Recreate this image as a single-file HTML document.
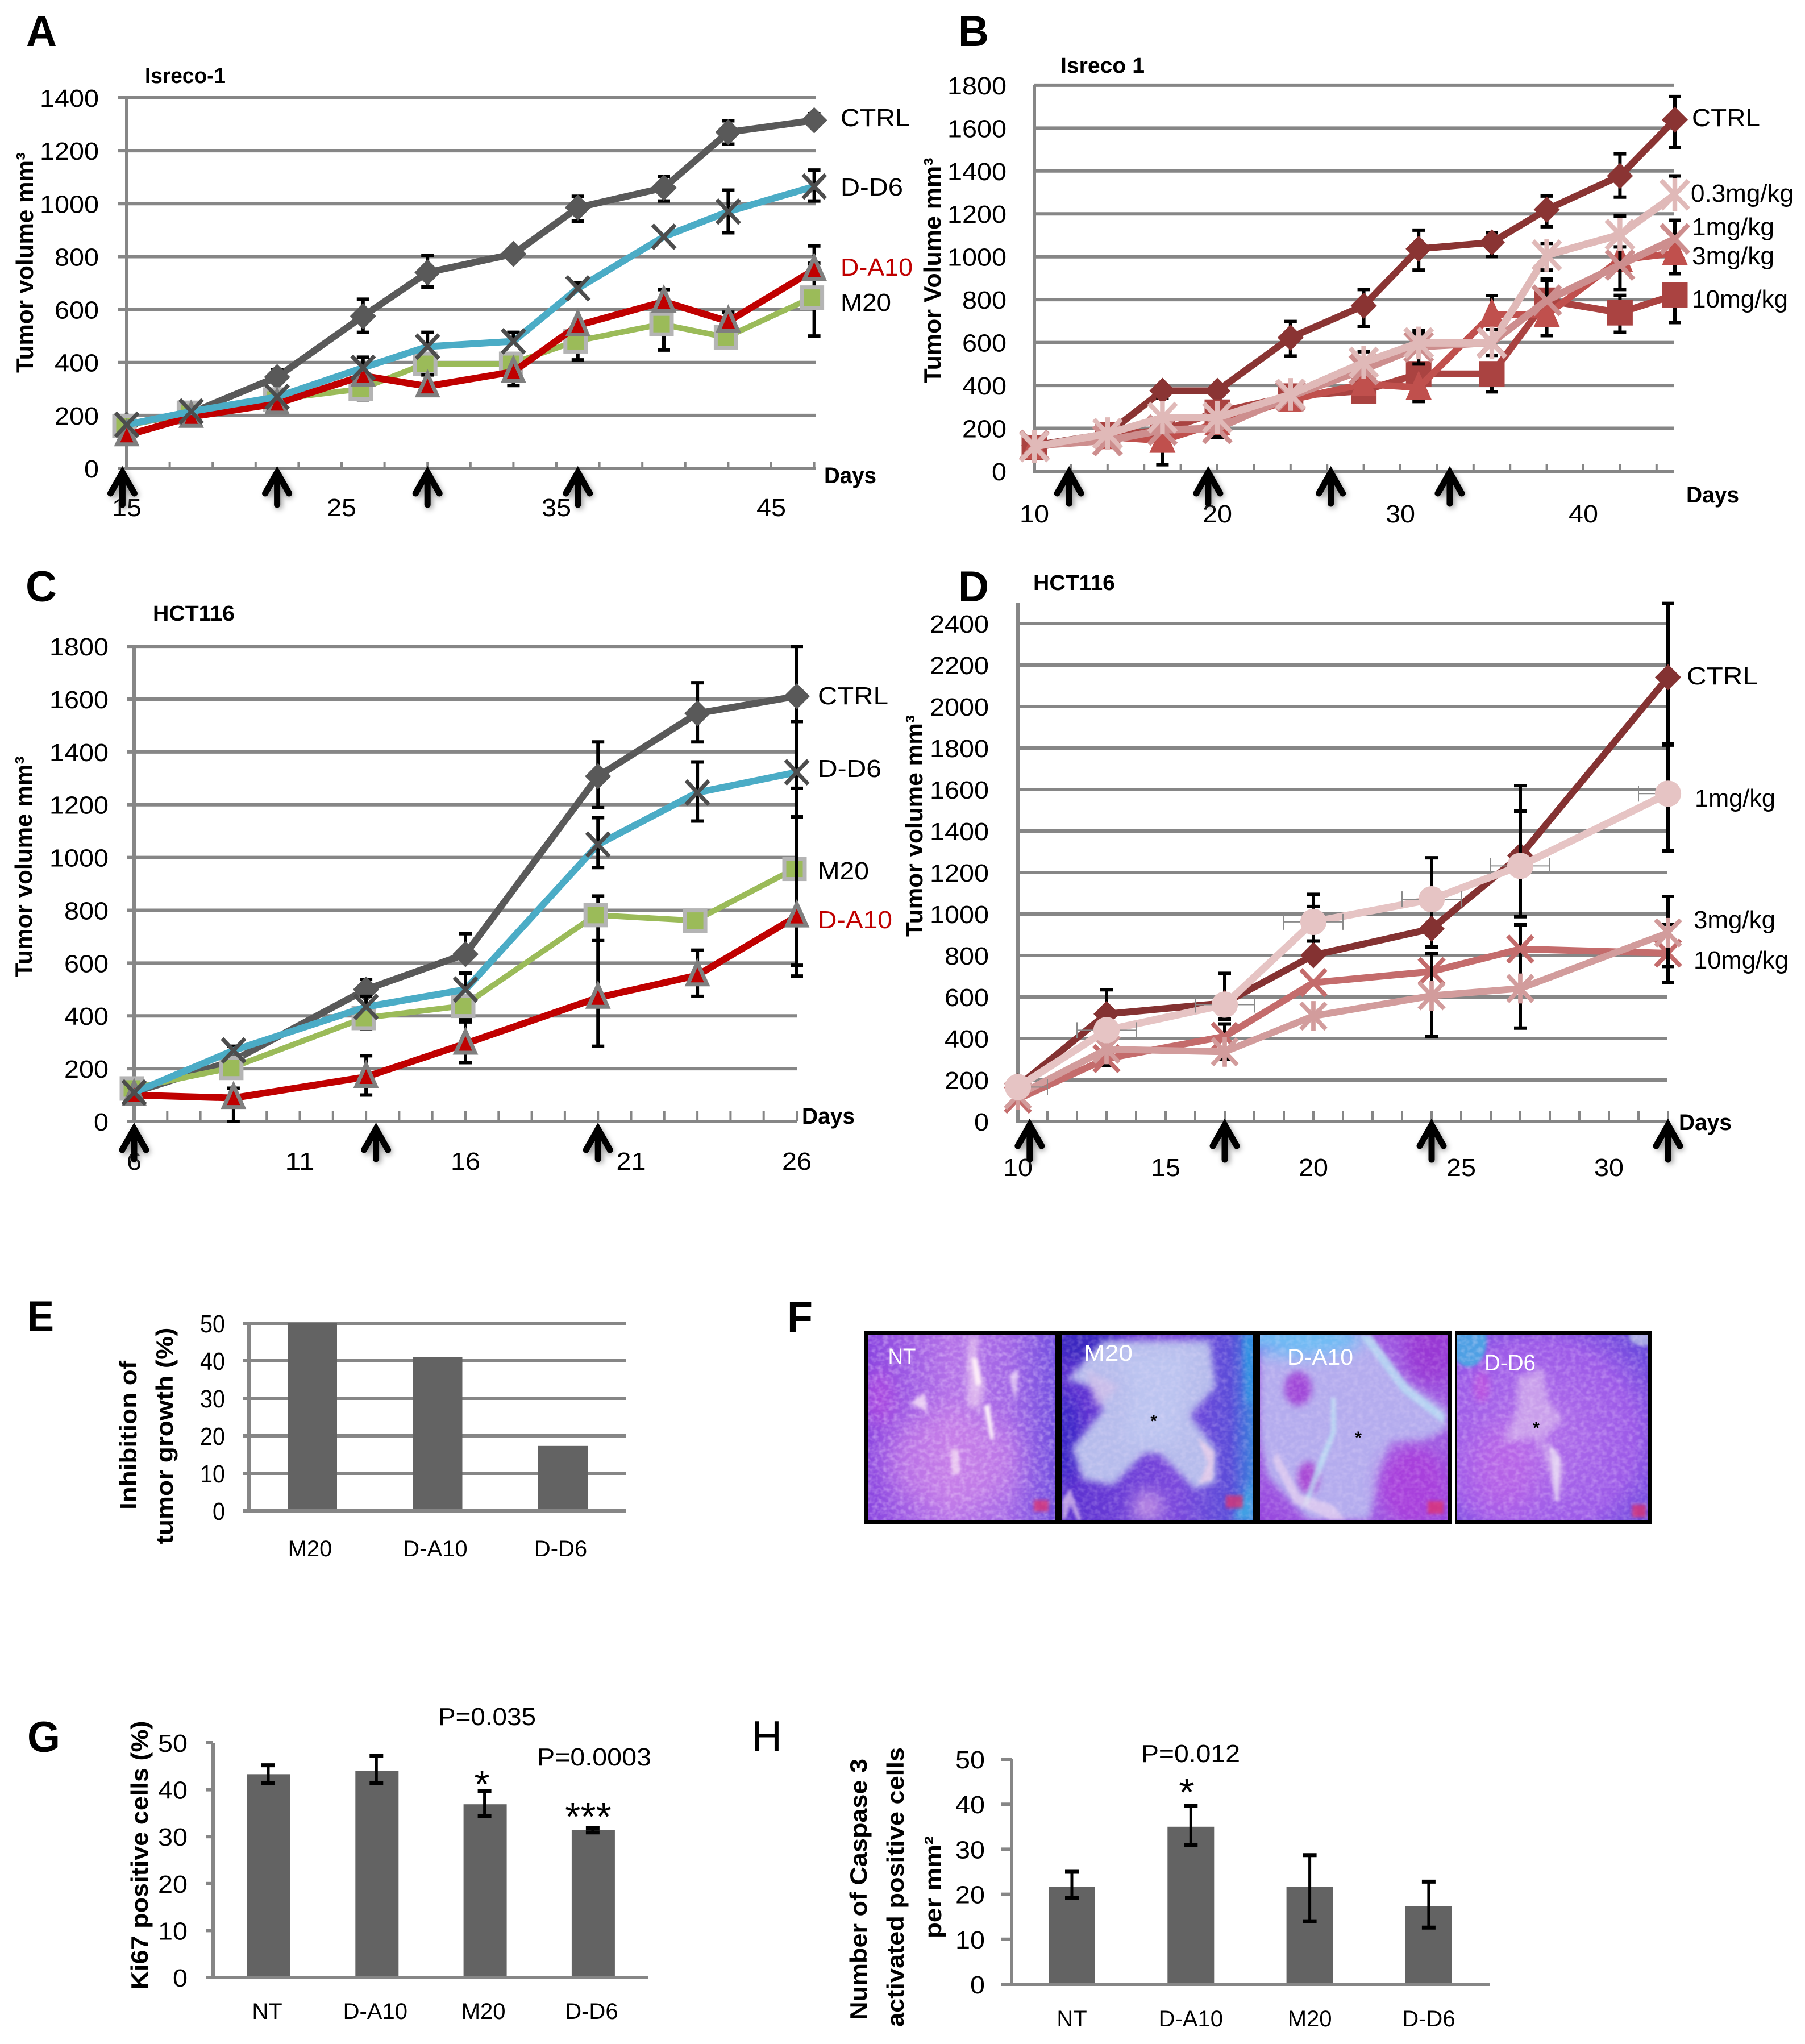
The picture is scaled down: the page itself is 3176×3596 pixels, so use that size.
<!DOCTYPE html>
<html lang="en">
<head>
<meta charset="utf-8">
<title>Tumor growth figure</title>
<style>
html,body{margin:0;padding:0;background:#fff;}
svg{display:block;}
text{font-family:"Liberation Sans",sans-serif;}
.letter{font-weight:bold;font-size:76px;fill:#000;}
.title{font-weight:bold;font-size:38px;fill:#000;}
.ylab{font-weight:bold;font-size:42px;fill:#000;}
.lab{font-size:44px;fill:#000;}
.days{font-weight:bold;font-size:40px;fill:#000;}
.micro{font-size:40px;fill:#fff;}
.star{font-size:70px;fill:#000;}
</style>
</head>
<body>
<svg id="figure" xmlns="http://www.w3.org/2000/svg" width="3176" height="3596" viewBox="0 0 3176 3596">
<defs>
<filter id="b3" x="-30%" y="-30%" width="160%" height="160%"><feGaussianBlur stdDeviation="3"/></filter>
<filter id="b6" x="-30%" y="-30%" width="160%" height="160%"><feGaussianBlur stdDeviation="6"/></filter>
<filter id="b14" x="-40%" y="-40%" width="180%" height="180%"><feGaussianBlur stdDeviation="14"/></filter>
<filter id="b24" x="-60%" y="-60%" width="220%" height="220%"><feGaussianBlur stdDeviation="24"/></filter>
<filter id="grain" x="0" y="0" width="100%" height="100%">
<feTurbulence type="fractalNoise" baseFrequency="0.11 0.13" numOctaves="2" seed="4"/>
<feColorMatrix type="matrix" values="0 0 0 0 0.95  0 0 0 0 0.82  0 0 0 0 1  1.8 0 0 0 -0.7"/>
</filter>
<filter id="arrowShadow" x="-60%" y="-30%" width="220%" height="170%"><feGaussianBlur stdDeviation="5"/></filter>
<linearGradient id="ntBase" x1="0" y1="0" x2="1" y2="0"><stop offset="0" stop-color="#8a46e0"/><stop offset="0.45" stop-color="#b472e8"/><stop offset="0.75" stop-color="#a266e6"/><stop offset="1" stop-color="#7450e0"/></linearGradient>
<linearGradient id="m20Base" x1="0" y1="0" x2="1" y2="0"><stop offset="0" stop-color="#5a30d0"/><stop offset="0.6" stop-color="#7a48dc"/><stop offset="0.88" stop-color="#5a4cd8"/><stop offset="1" stop-color="#3a80dc"/></linearGradient>
<radialGradient id="a10Base" cx="50%" cy="50%" r="75%"><stop offset="0" stop-color="#b088ea"/><stop offset="1" stop-color="#9440dc"/></radialGradient>
<radialGradient id="d6Base" cx="42%" cy="55%" r="72%"><stop offset="0" stop-color="#b270ea"/><stop offset="0.7" stop-color="#9c5ae8"/><stop offset="1" stop-color="#6a48dc"/></radialGradient>
</defs>

<g id="panel-a">
<text class="letter" x="46" y="81" textLength="54" lengthAdjust="spacingAndGlyphs">A</text>
<text class="title" x="255" y="146" textLength="142" lengthAdjust="spacingAndGlyphs">Isreco-1</text>
<text class="ylab" transform="translate(58 462) rotate(-90)" text-anchor="middle" textLength="388" lengthAdjust="spacingAndGlyphs">Tumor volume mm³</text>
<text class="days" x="1450" y="850" textLength="92" lengthAdjust="spacingAndGlyphs">Days</text>
<text class="lab" x="1479" y="222" textLength="122" lengthAdjust="spacingAndGlyphs">CTRL</text>
<text class="lab" x="1479" y="344" textLength="110" lengthAdjust="spacingAndGlyphs">D-D6</text>
<text class="lab" x="1479" y="485" textLength="127" lengthAdjust="spacingAndGlyphs" style="fill:#c00000">D-A10</text>
<text class="lab" x="1479" y="547" textLength="89" lengthAdjust="spacingAndGlyphs">M20</text>
</g>

<g id="panel-b">
<text class="letter" x="1686" y="81" textLength="54" lengthAdjust="spacingAndGlyphs">B</text>
<text class="title" x="1866" y="128" textLength="148" lengthAdjust="spacingAndGlyphs">Isreco 1</text>
<text class="ylab" transform="translate(1655 476) rotate(-90)" text-anchor="middle" textLength="397" lengthAdjust="spacingAndGlyphs">Tumor Volume mm³</text>
<text class="days" x="2967" y="884" textLength="93" lengthAdjust="spacingAndGlyphs">Days</text>
<text class="lab" x="2977" y="222" textLength="120" lengthAdjust="spacingAndGlyphs">CTRL</text>
<text class="lab" x="2975" y="355" textLength="181" lengthAdjust="spacingAndGlyphs">0.3mg/kg</text>
<text class="lab" x="2977" y="414" textLength="145" lengthAdjust="spacingAndGlyphs">1mg/kg</text>
<text class="lab" x="2977" y="465" textLength="145" lengthAdjust="spacingAndGlyphs">3mg/kg</text>
<text class="lab" x="2977" y="541" textLength="169" lengthAdjust="spacingAndGlyphs">10mg/kg</text>
</g>

<g id="panel-c">
<text class="letter" x="45" y="1058" textLength="55" lengthAdjust="spacingAndGlyphs">C</text>
<text class="title" x="269" y="1092" textLength="144" lengthAdjust="spacingAndGlyphs">HCT116</text>
<text class="ylab" transform="translate(56 1525) rotate(-90)" text-anchor="middle" textLength="389" lengthAdjust="spacingAndGlyphs">Tumor volume mm³</text>
<text class="days" x="1411" y="1977" textLength="93" lengthAdjust="spacingAndGlyphs">Days</text>
<text class="lab" x="1439" y="1239" textLength="124" lengthAdjust="spacingAndGlyphs">CTRL</text>
<text class="lab" x="1439" y="1367" textLength="112" lengthAdjust="spacingAndGlyphs">D-D6</text>
<text class="lab" x="1439" y="1547" textLength="90" lengthAdjust="spacingAndGlyphs">M20</text>
<text class="lab" x="1439" y="1633" textLength="131" lengthAdjust="spacingAndGlyphs" style="fill:#c00000">D-A10</text>
</g>

<g id="panel-d">
<text class="letter" x="1686" y="1058" textLength="54" lengthAdjust="spacingAndGlyphs">D</text>
<text class="title" x="1818" y="1038" textLength="144" lengthAdjust="spacingAndGlyphs">HCT116</text>
<text class="ylab" transform="translate(1623 1453) rotate(-90)" text-anchor="middle" textLength="390" lengthAdjust="spacingAndGlyphs">Tumor volume mm³</text>
<text class="days" x="2954" y="1988" textLength="93" lengthAdjust="spacingAndGlyphs">Days</text>
<text class="lab" x="2968" y="1204" textLength="125" lengthAdjust="spacingAndGlyphs">CTRL</text>
<text class="lab" x="2982" y="1419" textLength="142" lengthAdjust="spacingAndGlyphs">1mg/kg</text>
<text class="lab" x="2980" y="1633" textLength="144" lengthAdjust="spacingAndGlyphs">3mg/kg</text>
<text class="lab" x="2980" y="1704" textLength="167" lengthAdjust="spacingAndGlyphs">10mg/kg</text>
</g>

<g id="panel-e">
<text class="letter" x="48" y="2342" textLength="47" lengthAdjust="spacingAndGlyphs">E</text>
<text class="ylab" transform="translate(240 2525) rotate(-90)" text-anchor="middle" textLength="262" lengthAdjust="spacingAndGlyphs">Inhibition of</text>
<text class="ylab" transform="translate(304 2526) rotate(-90)" text-anchor="middle" textLength="381" lengthAdjust="spacingAndGlyphs">tumor growth (%)</text>
</g>

<g id="panel-f">
<text class="letter" x="1385" y="2343" textLength="45" lengthAdjust="spacingAndGlyphs">F</text>
<rect x="1520" y="2342" width="1034" height="339" fill="#000"/>
<rect x="2560" y="2342" width="347" height="339" fill="#000"/>

<svg x="1527" y="2349" width="329" height="325" viewBox="0 0 329 325">
<rect width="329" height="325" fill="url(#ntBase)"/>
<ellipse cx="150" cy="220" rx="120" ry="90" fill="#d88ae8" opacity=".5" filter="url(#b24)"/>
<ellipse cx="20" cy="110" rx="28" ry="50" fill="#b848e0" opacity=".6" filter="url(#b14)"/>
<path d="M178 0 L194 0 L192 50 L206 90 L196 130 L176 125 L174 60 Z" fill="#e8c8f0" opacity=".8" filter="url(#b6)"/>
<path d="M182 40 L192 40 L200 85 L190 90 Z" fill="#fff0f8" filter="url(#b3)"/>
<path d="M204 124 L214 122 L222 181 L216 185 Z" fill="#fff4fa" filter="url(#b3)"/>
<path d="M145 200 L160 200 L162 245 L148 245 Z" fill="#f0d4f2" opacity=".85" filter="url(#b3)"/>
<path d="M75 120 L100 100 L105 135 Z" fill="#f4dff6" opacity=".85" filter="url(#b3)"/>
<path d="M248 70 L266 60 L260 120 Z" fill="#e8d0f4" opacity=".8" filter="url(#b3)"/>
<rect width="329" height="325" filter="url(#grain)" opacity=".45"/>
<rect x="292" y="290" width="26" height="20" fill="#e0306c" opacity=".75" filter="url(#b3)"/>
</svg>

<svg x="1869" y="2349" width="336" height="325" viewBox="0 0 336 325">
<rect width="336" height="325" fill="url(#m20Base)"/>
<ellipse cx="40" cy="15" rx="60" ry="35" fill="#3a28c0" filter="url(#b14)"/>
<ellipse cx="0" cy="180" rx="30" ry="80" fill="#3a28c8" filter="url(#b14)"/>
<path d="M320 0 L336 0 L336 120 L325 120 Z" fill="#2f96e4" filter="url(#b6)"/>
<path d="M300 325 L336 250 L336 325 Z" fill="#3fa0e4" filter="url(#b6)"/>
<path d="M72 10 L260 10 L270 91 L225 141 L270 201 L270 258 L234 271 L171 208 L144 208 L90 264 L36 254 L18 198 L72 131 L54 91 L9 78 Z" fill="#b6bcec" filter="url(#b6)"/>
<path d="M100 30 L230 30 L210 130 L200 190 L110 190 L120 100 Z" fill="#bcc4f0" filter="url(#b14)"/>
<path d="M238 180 L268 205 L264 255 L240 262 L256 225 Z" fill="#e8cce8" opacity=".8" filter="url(#b3)"/>
<path d="M40 60 L100 90 L60 130 Z" fill="#d8c0e8" opacity=".6" filter="url(#b6)"/>
<path d="M130 275 L170 275 L180 325 L120 325 Z" fill="#d8a8e8" opacity=".7" filter="url(#b14)"/>
<path d="M0 290 L14 270 L34 325 L26 325 L14 295 L6 325 L0 325 Z" fill="#e8d0ee" opacity=".7" filter="url(#b3)"/>
<rect width="336" height="325" filter="url(#grain)" opacity=".28"/>
<rect x="288" y="282" width="30" height="22" fill="#e0306c" opacity=".75" filter="url(#b3)"/>
</svg>

<svg x="2217" y="2349" width="330" height="325" viewBox="0 0 330 325">
<rect width="330" height="325" fill="url(#a10Base)"/>
<path d="M103 0 L193 0 L247 74 L330 131 L330 165 L283 188 L229 188 L192 325 L85 325 L13 248 L0 181 L0 31 Z" fill="#b4acee" filter="url(#b6)"/>
<ellipse cx="70" cy="6" rx="110" ry="32" fill="#70bcf4" filter="url(#b14)"/>
<ellipse cx="67" cy="94" rx="24" ry="30" fill="#a048d8" filter="url(#b6)"/>
<ellipse cx="85" cy="251" rx="19" ry="28" fill="#a848d4" filter="url(#b6)"/>
<ellipse cx="270" cy="265" rx="60" ry="70" fill="#a840dc" filter="url(#b14)"/>
<ellipse cx="300" cy="30" rx="45" ry="55" fill="#9838d4" filter="url(#b14)"/>
<path d="M175 0 L195 0 L262 90 L325 140 L322 155 L250 100 Z" fill="#b8e4f4" opacity=".7" filter="url(#b3)"/>
<path d="M125 110 L125 170 L95 240 L75 300 L84 300 L108 240 L134 170 L133 110 Z" fill="#bde8f4" opacity=".7" filter="url(#b3)"/>
<path d="M30 205 L70 280 L130 300 L150 325 L125 325 L60 295 L22 220 Z" fill="#f0d8f0" opacity=".6" filter="url(#b3)"/>
<rect width="330" height="325" filter="url(#grain)" opacity=".25"/>
<rect x="295" y="292" width="28" height="22" fill="#e0306c" opacity=".75" filter="url(#b3)"/>
</svg>

<svg x="2564" y="2349" width="336" height="325" viewBox="0 0 336 325">
<rect width="336" height="325" fill="url(#d6Base)"/>
<ellipse cx="20" cy="10" rx="32" ry="46" fill="#4fa0e4" filter="url(#b3)"/>
<ellipse cx="330" cy="3" rx="28" ry="16" fill="#a8a8e4" filter="url(#b3)"/>
<ellipse cx="80" cy="240" rx="60" ry="80" fill="#c860e4" opacity=".45" filter="url(#b24)"/>
<ellipse cx="43" cy="91" rx="14" ry="28" fill="#c850dc" opacity=".6" filter="url(#b6)"/>
<path d="M106 74 L151 58 L160 114 L187 148 L151 181 L187 231 L178 291 L165 248 L142 181 L79 188 L106 131 Z" fill="#cfa8ec" opacity=".85" filter="url(#b6)"/>
<path d="M162 190 L182 215 L178 295 L172 290 Z" fill="#e8dcf4" opacity=".8" filter="url(#b3)"/>
<rect width="336" height="325" filter="url(#grain)" opacity=".35"/>
<rect x="308" y="298" width="24" height="22" fill="#e0306c" opacity=".75" filter="url(#b3)"/>
</svg>

<text class="micro" x="1587" y="2400" text-anchor="middle" textLength="49" lengthAdjust="spacingAndGlyphs">NT</text>
<text class="micro" x="1950" y="2394" text-anchor="middle" textLength="86" lengthAdjust="spacingAndGlyphs">M20</text>
<text class="micro" x="2323" y="2401" text-anchor="middle" textLength="116" lengthAdjust="spacingAndGlyphs">D-A10</text>
<text class="micro" x="2657" y="2411" text-anchor="middle" textLength="90" lengthAdjust="spacingAndGlyphs">D-D6</text>
<text x="2030" y="2510" text-anchor="middle" font-size="30" font-weight="bold">*</text>
<text x="2390" y="2539" text-anchor="middle" font-size="30" font-weight="bold">*</text>
<text x="2703" y="2522" text-anchor="middle" font-size="30" font-weight="bold">*</text>
</g>

<g id="panel-g">
<text class="letter" x="48" y="3082" textLength="58" lengthAdjust="spacingAndGlyphs">G</text>
<text class="ylab" transform="translate(260 3264) rotate(-90)" text-anchor="middle" textLength="473" lengthAdjust="spacingAndGlyphs">Ki67 positive cells (%)</text>
<text class="lab" x="771" y="3035" textLength="172" lengthAdjust="spacingAndGlyphs">P=0.035</text>
<text class="lab" x="945" y="3106" textLength="201" lengthAdjust="spacingAndGlyphs">P=0.0003</text>
<text class="star" x="848" y="3163" text-anchor="middle">*</text>
<text class="star" x="1035" y="3220" text-anchor="middle">***</text>
</g>

<g id="panel-h">
<text class="letter" x="1322" y="3081" textLength="54" lengthAdjust="spacingAndGlyphs" style="font-weight:normal">H</text>
<text class="ylab" transform="translate(1525 3324) rotate(-90)" text-anchor="middle" textLength="460" lengthAdjust="spacingAndGlyphs">Number of Caspase 3</text>
<text class="ylab" transform="translate(1590 3320) rotate(-90)" text-anchor="middle" textLength="492" lengthAdjust="spacingAndGlyphs">activated positive cells</text>
<text class="ylab" transform="translate(1656 3320) rotate(-90)" text-anchor="middle" textLength="180" lengthAdjust="spacingAndGlyphs">per mm²</text>
<text class="lab" x="2008" y="3100" textLength="174" lengthAdjust="spacingAndGlyphs">P=0.012</text>
<text class="star" x="2088" y="3177" text-anchor="middle">*</text>
</g>
</svg>

<script>
// ---------- Panel A data ----------
const aDays = [15, 18, 22, 26, 29, 33, 36, 40, 43, 47];
const aCtrl = [165, 210, 345, 575, 740, 810, 985, 1060, 1270, 1315];
const aCtrlLow = [null, null, null, 514, 685, null, 934, 1010, 1225, null];
const aCtrlHigh = [null, null, 373, 639, 803, null, 1028, 1102, 1313, 1340];
const aM20 = [160, 210, 260, 300, 395, 395, 480, 545, 495, 645];
const aM20Low = [null, null, null, 259, null, null, 410, 447, null, 500];
const aM20High = [null, null, null, null, null, null, null, null, null, 840];
const aA10 = [125, 195, 245, 350, 310, 365, 540, 630, 555, 750];
const aA10Low = [null, null, null, null, null, 313, null, null, null, null];
const aA10High = [null, null, null, null, 353, null, null, 675, 590, 775];
const aD6 = [165, 215, 270, 380, 460, 480, 680, 875, 970, 1065];
const aD6Low = [null, null, null, null, null, null, null, null, 890, 1010];
const aD6High = [null, null, null, 420, 514, 514, 702, null, 1051, 1127];
const aYTicks = [0, 200, 400, 600, 800, 1000, 1200, 1400];
const aXLabels = [15, 25, 35, 45];
const aTreatments = [14.8, 22, 29, 36];

// ---------- Panel B data ----------
const bDays = [10, 14, 17, 20, 24, 28, 31, 35, 38, 42, 45];
const bCtrl = [120, 175, 375, 375, 623, 772, 1037, 1067, 1220, 1377, 1639];
const bCtrlLow = [null, null, null, null, 537, 676, 938, 1001, 1140, 1278, 1510];
const bCtrlHigh = [null, null, 340, null, 698, 847, 1124, 1112, 1283, 1480, 1747];
const b10 = [110, 170, 190, 275, 350, 375, 454, 454, 797, 739, 822];
const b10Low = [null, null, null, 159, 292, 325, 325, 370, 632, 648, 693];
const b10High = [null, null, null, null, null, null, null, null, null, 820, null];
const b3 = [115, 160, 143, 225, 333, 407, 390, 730, 730, 986, 1017];
const b3Low = [null, null, 30, null, null, null, null, null, null, null, 921];
const b3High = [null, null, null, null, null, null, null, 819, 890, null, null];
const b1 = [120, 143, 192, 200, 350, 474, 580, 600, 797, 962, 1083];
const b1Low = [null, null, null, null, null, null, null, null, null, 847, null];
const b1High = [null, null, null, null, null, null, 640, null, 897, 1046, 1170];
const b03 = [115, 175, 250, 250, 358, 507, 598, 598, 1007, 1103, 1289];
const b03Low = [null, null, null, null, null, null, 500, 540, 938, null, null];
const b03High = [null, null, null, null, null, 557, 656, 660, 1062, 1190, 1377];
const bYTicks = [0, 200, 400, 600, 800, 1000, 1200, 1400, 1600, 1800];
const bXLabels = [10, 20, 30, 40];
const bTreatments = [11.9, 19.5, 26.2, 32.7];

// ---------- Panel C data ----------
const cDays = [6, 9, 13, 16, 20, 23, 26];
const cCtrl = [110, 231, 500, 634, 1308, 1546, 1611];
const cCtrlLow = [null, null, null, null, 1189, 1438, 1515];
const cCtrlHigh = [null, 285, 538, 711, 1438, 1662, 1800];
const cM20 = [125, 203, 392, 438, 782, 761, 957];
const cM20Low = [null, null, 349, 392, 685, null, 592];
const cM20High = [null, null, null, null, 854, null, 1154];
const cA10 = [100, 89, 169, 295, 469, 554, 777];
const cA10Low = [null, 0, 100, 223, 285, 474, 551];
const cA10High = [null, 126, 249, 377, 685, 649, 1262];
const cD6 = [110, 269, 434, 500, 1049, 1246, 1323];
const cD6Low = [null, null, null, null, 962, 1138, 1154];
const cD6High = [null, null, 474, 562, 1151, 1362, 1515];
const cYTicks = [0, 200, 400, 600, 800, 1000, 1200, 1400, 1600, 1800];
const cXLabels = [6, 11, 16, 21, 26];
const cTreatments = [6, 13.3, 20];

// ---------- Panel D data ----------
const dDays = [10, 13, 17, 20, 24, 27, 32];
const dCtrl = [170, 518, 571, 801, 929, 1281, 2141];
const dCtrlLow = [null, null, 493, 870, 841, 987, 1822];
const dCtrlHigh = [null, 635, 714, 1095, 1271, 1619, 2497];
const d3 = [108, 303, 410, 669, 723, 831, 811];
const d3Low = [null, 270, null, null, null, 450, 669];
const d3High = [null, null, 470, null, null, 948, 1085];
const d10 = [127, 348, 336, 508, 606, 641, 909];
const d10Low = [null, null, 300, null, 410, null, 747];
const d10High = [null, null, null, null, 811, null, 950];
const d1 = [166, 440, 563, 962, 1071, 1232, 1580];
const d1Low = [null, null, null, null, null, null, 1304];
const d1High = [null, null, null, 1036, null, 1496, 1814];
const dYTicks = [0, 200, 400, 600, 800, 1000, 1200, 1400, 1600, 1800, 2000, 2200, 2400];
const dXLabels = [10, 15, 20, 25, 30];
const dTreatments = [10.4, 17, 24, 32];
const d1XError = [1, 1, 1, 1, 1, 1, 1];

// ---------- Panel E data ----------
const eCategories = ['M20', 'D-A10', 'D-D6'];
const eValues = [50, 41, 17.3];
const eYTicks = [0, 10, 20, 30, 40, 50];

// ---------- Panel G data ----------
const gCategories = ['NT', 'D-A10', 'M20', 'D-D6'];
const gValues = [43.3, 44, 36.9, 31.4];
const gLow = [41.4, 41.4, 34.4, 30.9];
const gHigh = [45.2, 47.2, 39.7, 31.9];
const gYTicks = [0, 10, 20, 30, 40, 50];

// ---------- Panel H data ----------
const hCategories = ['NT', 'D-A10', 'M20', 'D-D6'];
const hValues = [21.7, 35, 21.7, 17.3];
const hLow = [19.2, 30.9, 14, 12.6];
const hHigh = [25, 39.6, 28.7, 22.8];
const hYTicks = [0, 10, 20, 30, 40, 50];

const SVGNS = 'http://www.w3.org/2000/svg';
const GRID = '#868686';

function node(parent, tag, attrs) {
  const el = document.createElementNS(SVGNS, tag);
  for (const k in attrs) el.setAttribute(k, attrs[k]);
  parent.appendChild(el);
  return el;
}

function drawRule(parent, x1, y1, x2, y2, color, width, name) {
  const el = node(parent, 'line', {x1: x1, y1: y1, x2: x2, y2: y2, stroke: color, 'stroke-width': width});
  
  
  return el;
}

function drawTickText(parent, x, y, str, anchor, charWidth, name) {
  const el = node(parent, 'text', {x: x, y: y + 16, 'text-anchor': anchor, 'font-size': 44, fill: '#000',
    textLength: String(str).length * charWidth, lengthAdjust: 'spacingAndGlyphs'});
  el.textContent = str;
  
  
  return el;
}

function drawArrow(parent, x, top, height) {
  const g = node(parent, 'g', {});
  
  
  const d = 'M' + (x - 21) + ' ' + (top + 42) + ' L' + x + ' ' + (top + 5) + ' L' + (x + 21) + ' ' + (top + 42) +
    ' M' + x + ' ' + (top + 5) + ' L' + x + ' ' + (top + height);
  node(g, 'path', {d: d, fill: 'none', stroke: '#777', 'stroke-width': 12, opacity: 0.75, transform: 'translate(3 7)', filter: 'url(#arrowShadow)'});
  node(g, 'path', {d: d, fill: 'none', stroke: '#000', 'stroke-width': 11, 'stroke-linecap': 'round', 'stroke-linejoin': 'miter'});
}

function drawMarker(parent, type, x, y, fill, edge, scale) {
  const k = scale || 1;
  let el;
  if (type === 'diamond') {
    el = node(parent, 'polygon', {points: (x - 23 * k) + ',' + y + ' ' + x + ',' + (y - 23 * k) + ' ' + (x + 23 * k) + ',' + y + ' ' + x + ',' + (y + 23 * k), fill: fill});
  } else if (type === 'square') {
    el = node(parent, 'rect', {x: x - 18 * k, y: y - 18 * k, width: 36 * k, height: 36 * k, fill: fill, stroke: edge, 'stroke-width': edge === 'none' ? 0 : 7});
  } else if (type === 'triangle') {
    el = node(parent, 'polygon', {points: (x - 17 * k) + ',' + (y + 16 * k) + ' ' + x + ',' + (y - 22 * k) + ' ' + (x + 17 * k) + ',' + (y + 16 * k), fill: fill, stroke: edge, 'stroke-width': edge === 'none' ? 0 : 7, 'stroke-linejoin': 'miter'});
  } else if (type === 'circle') {
    el = node(parent, 'circle', {cx: x, cy: y, r: 21 * k, fill: fill});
  } else if (type === 'x') {
    el = node(parent, 'path', {d: 'M' + (x - 20 * k) + ' ' + (y - 21 * k) + ' L' + (x + 20 * k) + ' ' + (y + 21 * k) + ' M' + (x + 20 * k) + ' ' + (y - 21 * k) + ' L' + (x - 20 * k) + ' ' + (y + 21 * k), stroke: fill, 'stroke-width': 7 * k, fill: 'none'});
  } else {
    el = node(parent, 'path', {d: 'M' + (x - 20 * k) + ' ' + (y - 21 * k) + ' L' + (x + 20 * k) + ' ' + (y + 21 * k) + ' M' + (x + 20 * k) + ' ' + (y - 21 * k) + ' L' + (x - 20 * k) + ' ' + (y + 21 * k) + ' M' + x + ' ' + (y - 24 * k) + ' L' + x + ' ' + (y + 24 * k), stroke: fill, 'stroke-width': 7 * k, fill: 'none'});
  }
  
  
}

function drawErrorBar(parent, x, yFrom, yTo) {
  const stem = node(parent, 'line', {x1: x, y1: yFrom, x2: x, y2: yTo, stroke: '#000', 'stroke-width': 6});
  
  
  const cap = node(parent, 'line', {x1: x - 11, y1: yTo, x2: x + 11, y2: yTo, stroke: '#000', 'stroke-width': 6});
  
  
}

function drawLineChart(panelId, c, days, yTicks, xLabels, treatments, series) {
  const root = document.getElementById(panelId);
  const sx = v => c.x0 + (v - c.dayStart) * c.pxPerDay;
  const sy = v => c.y0 - v * c.pxPerUnit;
  yTicks.forEach(t => {
    if (t !== 0) drawRule(root, c.gridLeft, sy(t), c.right, sy(t), GRID, 6, 'y-gridline');
    drawTickText(root, c.labelRight, sy(t), t, 'end', 26, 'y-tick-label');
  });
  drawRule(root, c.x0, c.axisTop, c.x0, c.y0 + 3, GRID, 6, 'y-axis-line');
  drawRule(root, c.gridLeft, c.y0, c.right, c.y0, GRID, 6, 'x-axis-line');
  for (let d = c.dayStart; d <= c.dayEnd + 0.01; d += c.tickStep) {
    drawRule(root, sx(d), c.y0 - c.tickLen, sx(d), c.y0, GRID, 4, 'x-tick');
  }
  series.forEach(s => {
    const g = node(root, 'g', {});
    
    
    const off = s.dx || 0;
    const pts = days.map((d, i) => (sx(d) + off) + ',' + sy(s.values[i])).join(' ');
    const line = node(g, 'polyline', {points: pts, fill: 'none', stroke: s.color, 'stroke-width': s.width, 'stroke-linejoin': 'round'});
    
    
    days.forEach((d, i) => {
      const x = sx(d), y = sy(s.values[i]);
      if (s.low && s.low[i] !== null) drawErrorBar(g, x, y, sy(s.low[i]));
      if (s.high && s.high[i] !== null) drawErrorBar(g, x, y, sy(s.high[i]));
      if (s.xError) {
        const xl = sx(d - s.xError[i]), xr = sx(d + s.xError[i]);
        if (d - s.xError[i] >= c.dayStart) {
          drawRule(g, xl, y, x, y, '#8a8a8a', 2, 'x-error-bar');
          drawRule(g, xl, y - 14, xl, y + 14, '#8a8a8a', 2, 'x-error-cap');
        }
        if (d + s.xError[i] <= c.dayEnd) {
          drawRule(g, x, y, xr, y, '#8a8a8a', 2, 'x-error-bar');
          drawRule(g, xr, y - 14, xr, y + 14, '#8a8a8a', 2, 'x-error-cap');
        }
      }
    });
    days.forEach((d, i) => drawMarker(g, s.marker, sx(d) + off, sy(s.values[i]), s.markerFill, s.markerEdge, s.markerScale));
  });
  xLabels.forEach(t => drawTickText(root, sx(t), c.xLabelY, t, 'middle', 26, 'x-tick-label'));
  treatments.forEach(t => drawArrow(root, sx(t) + c.arrowDx, c.arrowTop, c.arrowHeight));
}

function drawBarChart(panelId, c, categories, values, low, high, yTicks) {
  const root = document.getElementById(panelId);
  const sy = v => c.y0 - v * c.pxPerUnit;
  yTicks.forEach(t => {
    if (c.grid && t !== 0) drawRule(root, c.axisLeft, sy(t), c.right, sy(t), GRID, 6, 'y-gridline');
    if (!c.grid) drawRule(root, c.axisLeft, sy(t), c.x0, sy(t), GRID, 6, 'y-tick');
    drawTickText(root, c.labelRight, sy(t), t, 'end', c.digitWidth, 'y-tick-label');
  });
  drawRule(root, c.x0, sy(yTicks[yTicks.length - 1]), c.x0, c.y0, GRID, 6, 'y-axis-line');
  categories.forEach((cat, i) => {
    const cx = c.first + i * c.step;
    const bar = node(root, 'rect', {x: cx - c.barWidth / 2, y: sy(values[i]), width: c.barWidth, height: c.y0 - sy(values[i]) + c.barOver, fill: '#636363'});
    
    
    if (low) {
      const ex = cx + c.errDx;
      const stem = node(root, 'line', {x1: ex, y1: sy(low[i]), x2: ex, y2: sy(high[i]), stroke: '#000', 'stroke-width': 5});
      
      
      [low[i], high[i]].forEach(v => drawRule(root, ex - 12, sy(v), ex + 12, sy(v), '#000', 7, 'error-bar-cap'));
    }
    const lab = node(root, 'text', {x: cx + c.labelDx, y: c.labelY, 'text-anchor': 'middle', 'font-size': 40, fill: '#000'});
    lab.textContent = cat;
    
    
  });
  drawRule(root, c.axisLeft, c.y0, c.right, c.y0, GRID, 6, 'x-axis-line');
}

drawLineChart('panel-a',
  {x0: 223, dayStart: 15, dayEnd: 47, pxPerDay: 37.8, y0: 824, pxPerUnit: 0.4657, gridLeft: 207, right: 1436, axisTop: 172, tickStep: 2, tickLen: 12, labelRight: 174, xLabelY: 892, arrowDx: 0, arrowTop: 826, arrowHeight: 62},
  aDays, aYTicks, aXLabels, aTreatments,
  [
    {key: 'ctrl', values: aCtrl, low: aCtrlLow, high: aCtrlHigh, color: '#595959', width: 12, marker: 'diamond', markerFill: '#595959', markerEdge: 'none'},
    {key: 'm20', values: aM20, low: aM20Low, high: aM20High, color: '#9bbb59', width: 10, marker: 'square', markerFill: '#9bbb59', markerEdge: '#b4b4b4', dx: -4},
    {key: 'd-a10', values: aA10, low: aA10Low, high: aA10High, color: '#c00000', width: 12, marker: 'triangle', markerFill: '#c00000', markerEdge: '#7f7f7f'},
    {key: 'd-d6', values: aD6, low: aD6Low, high: aD6High, color: '#4bacc6', width: 12, marker: 'x', markerFill: '#4d4d4d', markerEdge: 'none'}
  ]);

drawLineChart('panel-b',
  {x0: 1820, dayStart: 10, dayEnd: 45, pxPerDay: 32.2, y0: 829, pxPerUnit: 0.3773, gridLeft: 1820, right: 2945, axisTop: 150, tickStep: 2, tickLen: 12, labelRight: 1771, xLabelY: 903, arrowDx: 0, arrowTop: 826, arrowHeight: 60},
  bDays, bYTicks, bXLabels, bTreatments,
  [
    {key: 'ctrl', values: bCtrl, low: bCtrlLow, high: bCtrlHigh, color: '#8a3433', width: 12, marker: 'diamond', markerFill: '#8a3433', markerEdge: 'none'},
    {key: '10mg', values: b10, low: b10Low, high: b10High, color: '#aa4341', width: 12, marker: 'square', markerFill: '#aa4341', markerEdge: 'none', markerScale: 1.25},
    {key: '3mg', values: b3, low: b3Low, high: b3High, color: '#c0504d', width: 12, marker: 'triangle', markerFill: '#c0504d', markerEdge: 'none', markerScale: 1.35},
    {key: '1mg', values: b1, low: b1Low, high: b1High, color: '#cd8e8e', width: 13, marker: 'x', markerFill: '#cd8e8e', markerEdge: 'none', markerScale: 1.2},
    {key: '0-3mg', values: b03, low: b03Low, high: b03High, color: '#e0b9b8', width: 13, marker: 'star', markerFill: '#e0b9b8', markerEdge: 'none', markerScale: 1.2}
  ]);

drawLineChart('panel-c',
  {x0: 236, dayStart: 6, dayEnd: 26, pxPerDay: 58.3, y0: 1973, pxPerUnit: 0.4644, gridLeft: 224, right: 1402, axisTop: 1137, tickStep: 1, tickLen: 18, labelRight: 191, xLabelY: 2042, arrowDx: 0, arrowTop: 1981, arrowHeight: 58},
  cDays, cYTicks, cXLabels, cTreatments,
  [
    {key: 'ctrl', values: cCtrl, low: cCtrlLow, high: cCtrlHigh, color: '#595959', width: 12, marker: 'diamond', markerFill: '#595959', markerEdge: 'none'},
    {key: 'm20', values: cM20, low: cM20Low, high: cM20High, color: '#9bbb59', width: 10, marker: 'square', markerFill: '#9bbb59', markerEdge: '#b4b4b4', dx: -4},
    {key: 'd-a10', values: cA10, low: cA10Low, high: cA10High, color: '#c00000', width: 12, marker: 'triangle', markerFill: '#c00000', markerEdge: '#7f7f7f'},
    {key: 'd-d6', values: cD6, low: cD6Low, high: cD6High, color: '#4bacc6', width: 12, marker: 'x', markerFill: '#4d4d4d', markerEdge: 'none'}
  ]);

drawLineChart('panel-d',
  {x0: 1791, dayStart: 10, dayEnd: 32, pxPerDay: 52, y0: 1973, pxPerUnit: 0.365, gridLeft: 1791, right: 2934, axisTop: 1061, tickStep: 1, tickLen: 18, labelRight: 1740, xLabelY: 2053, arrowDx: 0, arrowTop: 1974, arrowHeight: 66},
  dDays, dYTicks, dXLabels, dTreatments,
  [
    {key: 'ctrl', values: dCtrl, low: dCtrlLow, high: dCtrlHigh, color: '#843232', width: 12, marker: 'diamond', markerFill: '#843232', markerEdge: 'none'},
    {key: '3mg', values: d3, low: d3Low, high: d3High, color: '#c46c6c', width: 12, marker: 'x', markerFill: '#c46c6c', markerEdge: 'none', markerScale: 1.1},
    {key: '10mg', values: d10, low: d10Low, high: d10High, color: '#d29c9c', width: 12, marker: 'star', markerFill: '#d29c9c', markerEdge: 'none', markerScale: 1.1},
    {key: '1mg', values: d1, low: d1Low, high: d1High, xError: d1XError, color: '#e6c4c4', width: 13, marker: 'circle', markerFill: '#e6c4c4', markerEdge: 'none', markerScale: 1.1}
  ]);

drawBarChart('panel-e',
  {x0: 438, y0: 2658, pxPerUnit: 6.6, axisLeft: 427, right: 1101, grid: true, labelRight: 396, digitWidth: 22, first: 549.5, step: 220.5, barWidth: 87, barOver: 4, labelDx: -4, labelY: 2738},
  eCategories, eValues, null, null, eYTicks);

drawBarChart('panel-g',
  {x0: 375, y0: 3479, pxPerUnit: 8.26, axisLeft: 363, right: 1140, grid: false, labelRight: 330, digitWidth: 26, first: 473, step: 190.3, barWidth: 76, barOver: 0, errDx: -1, labelDx: -3, labelY: 3552},
  gCategories, gValues, gLow, gHigh, gYTicks);

drawBarChart('panel-h',
  {x0: 1780, y0: 3491, pxPerUnit: 7.92, axisLeft: 1762, right: 2622, grid: false, labelRight: 1733, digitWidth: 26, first: 1886, step: 209.3, barWidth: 82, barOver: 0, errDx: 0, labelDx: 0, labelY: 3565},
  hCategories, hValues, hLow, hHigh, hYTicks);
</script>
</body>
</html>
